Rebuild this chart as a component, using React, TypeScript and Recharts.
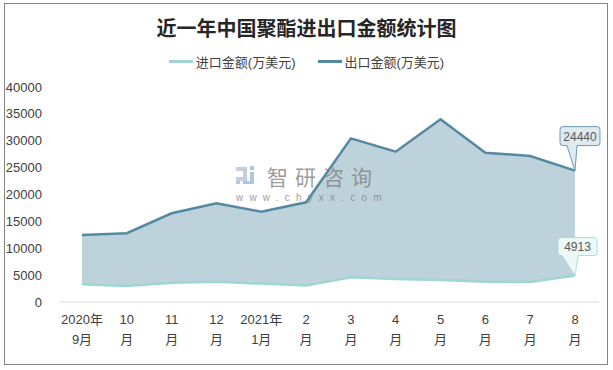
import React from "react";
import { ComposedChart, Area, Line, XAxis, YAxis } from "recharts";

const categories = ["2020年\n9月", "10\n月", "11\n月", "12\n月", "2021年\n1月", "2\n月", "3\n月", "4\n月", "5\n月", "6\n月", "7\n月", "8\n月"];
const importValues = [3300, 3000, 3600, 3780, 3420, 3050, 4600, 4300, 4100, 3750, 3720, 4913];
const exportValues = [12470, 12800, 16500, 18360, 16800, 18550, 30450, 27960, 33990, 27780, 27160, 24440];
const yTicks = [0, 5000, 10000, 15000, 20000, 25000, 30000, 35000, 40000];

const data = categories.map((c, i) => ({
  cat: c,
  imp: importValues[i],
  exp: exportValues[i],
  range: [importValues[i], exportValues[i]],
}));

const FONT = "'Liberation Sans', 'Noto Sans CJK SC', sans-serif";
const EXP_COLOR = "#5389a1";
const IMP_COLOR = "#9dd6d3";
const FILL = "#bdd2db";

const XTick = (props: any) => {
  const { x, y, payload } = props;
  const lines = String(payload.value).split("\n");
  return (
    <g>
      {lines.map((l: string, i: number) => (
        <text key={i} x={x} y={y + 14 + i * 20} textAnchor="middle" fill="#404040" fontSize={13} fontFamily={FONT}>
          {l}
        </text>
      ))}
    </g>
  );
};

const makeCallout = (opts: { fill: string; stroke: string; dxL: number; dxR: number; dyT: number; dyB: number; bL: number; bR: number }) => (props: any) => {
  const { x, y, index, value } = props;
  if (index !== data.length - 1) return null;
  const { fill, stroke, dxL, dxR, dyT, dyB, bL, bR } = opts;
  const l = x + dxL, r = x + dxR, t = y + dyT, b = y + dyB, rad = 3;
  const d = `M${l + rad},${t} L${r - rad},${t} Q${r},${t} ${r},${t + rad} L${r},${b - rad} Q${r},${b} ${r - rad},${b} L${x + bR},${b} L${x},${y} L${x + bL},${b} L${l + rad},${b} Q${l},${b} ${l},${b - rad} L${l},${t + rad} Q${l},${t} ${l + rad},${t} Z`;
  return (
    <g>
      <path d={d} fill={fill} stroke={stroke} strokeWidth={1} />
      <text x={(l + r) / 2} y={(t + b) / 2 + 4.5} textAnchor="middle" fontSize={12} fill="#595959" fontFamily={FONT}>
        {value}
      </text>
    </g>
  );
};

const expLabel = makeCallout({ fill: "#dfe9ef", stroke: "#6a9bb0", dxL: -15, dxR: 25, dyT: -44, dyB: -25, bL: -8, bR: 2 });
const impLabel = makeCallout({ fill: "#edf8f8", stroke: "#a9dedb", dxL: -17, dxR: 22, dyT: -38, dyB: -20, bL: -13, bR: 3 });

export default function App() {
  return (
    <div style={{ position: "absolute", left: 0, top: 0, width: 613, height: 370, background: "#fff" }}>
      <div style={{ position: "absolute", left: 4, top: 3, width: 604, height: 362, border: "1px solid #858585", boxSizing: "border-box" }} />
      <div style={{ position: "absolute", left: 0, top: 13, width: 613, textAlign: "center", fontFamily: "'Noto Sans CJK SC', sans-serif", fontWeight: 700, fontSize: 20, color: "#262626" }}>
        近一年中国聚酯进出口金额统计图
      </div>
      <div style={{ position: "absolute", left: 0, top: 52, width: 613, display: "flex", justifyContent: "center", alignItems: "center", fontFamily: FONT, fontSize: 13, color: "#404040" }}>
        <span style={{ display: "inline-block", width: 24, height: 3, background: IMP_COLOR, marginRight: 3 }} />
        <span style={{ marginRight: 22 }}>进口金额(万美元)</span>
        <span style={{ display: "inline-block", width: 24, height: 3, background: EXP_COLOR, marginRight: 3 }} />
        <span>出口金额(万美元)</span>
      </div>
      <div style={{ position: "absolute", left: 0, top: 0 }}>
        <ComposedChart width={613} height={370} data={data} margin={{ top: 87, right: 14, bottom: 0, left: 0 }}>
          <XAxis dataKey="cat" interval={0} height={68} tickLine={false} axisLine={{ stroke: "#d9d9d9" }} tick={<XTick />} padding={{ left: 22, right: 24 }} />
          <YAxis domain={[0, 40000]} ticks={yTicks} width={60} axisLine={false} tickLine={false} tickSize={0} tickMargin={18} tick={{ fill: "#404040", fontSize: 13, fontFamily: FONT }} interval={0} />
          <Area dataKey="range" stroke="none" fill={FILL} fillOpacity={1} isAnimationActive={false} legendType="none" />
          <Line dataKey="imp" stroke={IMP_COLOR} strokeWidth={2.5} dot={false} isAnimationActive={false} label={impLabel} />
          <Line dataKey="exp" stroke={EXP_COLOR} strokeWidth={2.5} dot={false} isAnimationActive={false} label={expLabel} />
        </ComposedChart>
      </div>
      <svg width={26} height={18} style={{ position: "absolute", left: 236, top: 166 }}>
        <rect x={0} y={1} width={11} height={4} fill="#c5cde0" />
        <rect x={7} y={5} width={4} height={6} fill="#c5cde0" />
        <rect x={0} y={11} width={11} height={4} fill="#c5cde0" />
        <rect x={0} y={15} width={4} height={3} fill="#a9c9e6" />
        <rect x={14} y={0} width={4} height={4} fill="#a9c9e6" />
        <rect x={14} y={6} width={4} height={12} fill="#a9c9e6" />
        <rect x={7} y={15} width={11} height={3} fill="#a9c9e6" />
      </svg>
      <div style={{ position: "absolute", left: 267, top: 166, fontFamily: "'Noto Sans CJK SC', sans-serif", fontSize: 21, lineHeight: "21px", color: "rgba(130,130,130,0.8)", letterSpacing: 7, whiteSpace: "nowrap", pointerEvents: "none" }}>智研咨询</div>
      <div style={{ position: "absolute", left: 236, top: 192, fontFamily: FONT, fontSize: 10, lineHeight: "11px", color: "rgba(130,130,130,0.8)", letterSpacing: 6.2, whiteSpace: "nowrap", pointerEvents: "none" }}>www.chyxx.com</div>
    </div>
  );
}
